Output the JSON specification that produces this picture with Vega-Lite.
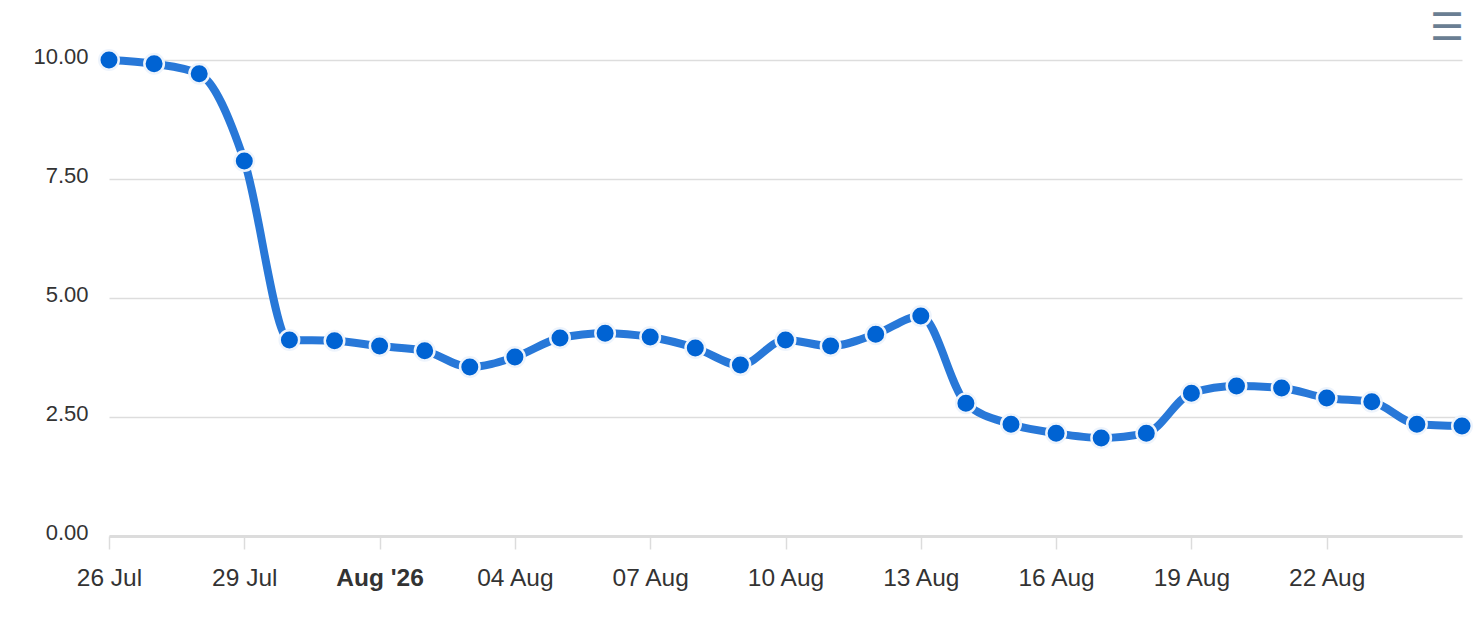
{
  "$schema": "https://vega.github.io/schema/vega-lite/v6.json",
  "width": 1353,
  "height": 476,
  "autosize": {"type": "none"},
  "padding": {"left": 109, "top": 60, "right": 20, "bottom": 96},
  "background": "white",
  "title": {
    "text": "☰",
    "anchor": "end",
    "frame": "group",
    "font": "DejaVu Sans",
    "fontSize": 38,
    "fontWeight": "normal",
    "color": "#6a7e93",
    "offset": -4,
    "dx": 2
  },
  "data": {
    "values": [
      {"date": "2026-07-26", "value": 10.0},
      {"date": "2026-07-27", "value": 9.92},
      {"date": "2026-07-28", "value": 9.71},
      {"date": "2026-07-29", "value": 7.88},
      {"date": "2026-07-30", "value": 4.12},
      {"date": "2026-07-31", "value": 4.1},
      {"date": "2026-08-01", "value": 3.99},
      {"date": "2026-08-02", "value": 3.89},
      {"date": "2026-08-03", "value": 3.55},
      {"date": "2026-08-04", "value": 3.76},
      {"date": "2026-08-05", "value": 4.16},
      {"date": "2026-08-06", "value": 4.26},
      {"date": "2026-08-07", "value": 4.18},
      {"date": "2026-08-08", "value": 3.95},
      {"date": "2026-08-09", "value": 3.59},
      {"date": "2026-08-10", "value": 4.12},
      {"date": "2026-08-11", "value": 3.99},
      {"date": "2026-08-12", "value": 4.24},
      {"date": "2026-08-13", "value": 4.62},
      {"date": "2026-08-14", "value": 2.79},
      {"date": "2026-08-15", "value": 2.35},
      {"date": "2026-08-16", "value": 2.16},
      {"date": "2026-08-17", "value": 2.06},
      {"date": "2026-08-18", "value": 2.16},
      {"date": "2026-08-19", "value": 3.0},
      {"date": "2026-08-20", "value": 3.15},
      {"date": "2026-08-21", "value": 3.11},
      {"date": "2026-08-22", "value": 2.9},
      {"date": "2026-08-23", "value": 2.82},
      {"date": "2026-08-24", "value": 2.35},
      {"date": "2026-08-25", "value": 2.31}
    ]
  },
  "encoding": {
    "x": {
      "field": "date",
      "type": "temporal",
      "title": null,
      "scale": {
        "type": "utc",
        "domain": [
          {"year": 2026, "month": 7, "date": 26, "utc": true},
          {"year": 2026, "month": 8, "date": 25, "utc": true}
        ]
      },
      "axis": {
        "values": [
          {"year": 2026, "month": 7, "date": 26, "utc": true},
          {"year": 2026, "month": 7, "date": 29, "utc": true},
          {"year": 2026, "month": 8, "date": 1, "utc": true},
          {"year": 2026, "month": 8, "date": 4, "utc": true},
          {"year": 2026, "month": 8, "date": 7, "utc": true},
          {"year": 2026, "month": 8, "date": 10, "utc": true},
          {"year": 2026, "month": 8, "date": 13, "utc": true},
          {"year": 2026, "month": 8, "date": 16, "utc": true},
          {"year": 2026, "month": 8, "date": 19, "utc": true},
          {"year": 2026, "month": 8, "date": 22, "utc": true}
        ],
        "labelExpr": "utcdate(datum.value) == 1 ? utcFormat(datum.value, \"%b '%y\") : utcFormat(datum.value, '%d %b')",
        "labelFontWeight": {
          "condition": {"test": "utcdate(datum.value) == 1", "value": "bold"},
          "value": "normal"
        },
        "grid": false,
        "domainColor": "#dcdcdc",
        "domainWidth": 3,
        "tickColor": "#dcdcdc",
        "tickWidth": 1.5,
        "tickSize": 13,
        "labelPadding": 17,
        "labelFontSize": 24.5,
        "labelFont": "Liberation Sans",
        "labelColor": "#333333",
        "labelFlush": false
      }
    },
    "y": {
      "field": "value",
      "type": "quantitative",
      "title": null,
      "scale": {"domain": [0, 10]},
      "axis": {
        "values": [0, 2.5, 5, 7.5, 10],
        "format": ".2f",
        "domain": false,
        "ticks": false,
        "gridColor": "#dddddd",
        "gridWidth": 1.5,
        "labelPadding": 21,
        "labelFontSize": 22,
        "labelFont": "Liberation Sans",
        "labelColor": "#333333",
        "labelBaseline": "middle",
        "labelOffset": -4
      }
    }
  },
  "layer": [
    {
      "mark": {
        "type": "line",
        "interpolate": "monotone",
        "color": "#2878d8",
        "strokeWidth": 8
      }
    },
    {
      "mark": {
        "type": "point",
        "filled": true,
        "shape": "circle",
        "size": 380,
        "color": "#0063d3",
        "stroke": "#eef4fc",
        "strokeWidth": 2.5,
        "opacity": 1
      }
    }
  ],
  "config": {
    "view": {"stroke": null}
  }
}
